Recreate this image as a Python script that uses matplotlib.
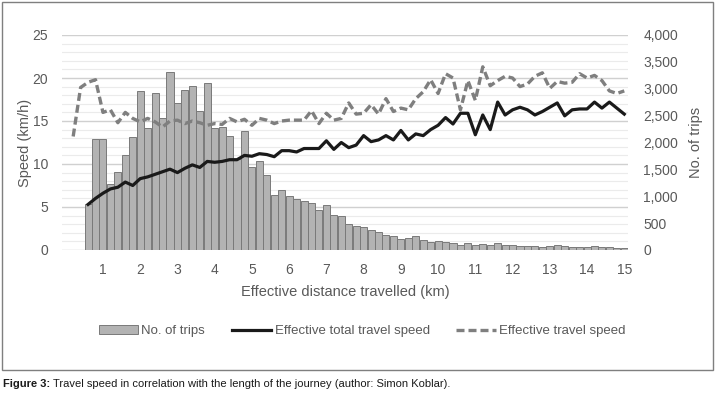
import numpy as np
import matplotlib
matplotlib.use("Agg")
import matplotlib.pyplot as plt
from matplotlib.patches import Rectangle, Patch
from matplotlib.lines import Line2D

plt.rcParams['font.family'] = ['Liberation Sans', 'DejaVu Sans']

# distance categories (km), 0.0 .. 15.0 step 0.2
distance = np.round(np.arange(0, 76) * 0.2, 1)

trips = [0, 0, 0, 850, 2065, 2071, 1225, 1445, 1760, 2108,
         2957, 2263, 2914, 2449, 3317, 2728, 2976, 3044, 2585, 3100,
         2270, 2288, 2130, 1690, 2210, 1545, 1662, 1390, 1020, 1113,
         1004, 952, 918, 868, 735, 834, 648, 632, 477, 450,
         422, 375, 329, 288, 267, 205, 232, 267, 186, 140,
         174, 155, 124, 90, 124, 100, 120, 95, 125, 95,
         95, 80, 78, 75, 65, 70, 90, 80, 62, 55,
         65, 75, 55, 50, 40, 32]

total_speed = [np.nan, np.nan, np.nan, 5.3, 6.0, 6.6, 7.1, 7.3, 7.9, 7.5,
               8.3, 8.5, 8.8, 9.1, 9.4, 9.0, 9.5, 9.9, 9.6, 10.3,
               10.2, 10.3, 10.5, 10.5, 11.0, 10.9, 11.2, 11.1, 10.85, 11.55,
               11.55, 11.4, 11.8, 11.8, 11.8, 12.7, 11.7, 12.5, 11.9, 12.2,
               13.3, 12.6, 12.8, 13.3, 12.8, 13.9, 12.8, 13.5, 13.3, 14.0,
               14.5, 15.4, 14.65, 15.9, 15.9, 13.4, 15.7, 14.0, 17.2, 15.7,
               16.3, 16.6, 16.3, 15.7, 16.1, 16.6, 17.1, 15.6, 16.3, 16.4,
               16.4, 17.2, 16.5, 17.2, 16.5, 15.8]

travel_speed = [np.nan, 13.2, 18.9, 19.5, 19.8, 16.0, 16.3, 14.8, 16.0, 15.3,
                14.9, 15.3, 14.9, 14.3, 15.0, 15.1, 14.7, 15.0, 14.8, 14.5,
                14.7, 14.6, 15.3, 14.9, 15.2, 14.5, 15.3, 15.1, 14.7, 15.0,
                15.1, 15.1, 15.1, 16.2, 14.7, 15.9, 15.1, 15.3, 17.1, 15.8,
                15.9, 16.9, 15.8, 17.6, 16.1, 16.5, 16.3, 17.6, 18.4, 19.8,
                18.2, 20.5, 20.0, 16.3, 19.7, 17.4, 21.3, 19.1, 19.7, 20.2,
                20.0, 19.0, 19.3, 20.2, 20.6, 18.8, 19.6, 19.4, 19.5, 20.5,
                20.0, 20.3, 19.7, 18.5, 18.2, 18.5]

xticks = list(range(1, 16))
left_ticks = [0, 5, 10, 15, 20, 25]
right_ticks = [0, 500, 1000, 1500, 2000, 2500, 3000, 3500, 4000]

W, H = 716, 396
fig = plt.figure(figsize=(W / 100, H / 100), dpi=100)

# outer frame
fig.patches.append(Rectangle((2 / W, 1 - 370 / H), 711 / W, 368 / H,
                             transform=fig.transFigure, fill=False,
                             edgecolor='#7f7f7f', linewidth=1.0))

ax = fig.add_axes([62 / W, 1 - 250 / H, 566 / W, 215 / H])
ax2 = ax.twinx()

txt = '#595959'
bar_face = '#b3b3b3'
bar_edge = '#7a7a7a'
dash_style = (0, (2.4, 1.2))

ax.set_ylim(0, 25)
ax2.set_ylim(0, 4000)
ax.set_xlim(-0.1, 15.1)

# gridlines
ax.set_yticks(left_ticks)
ax.set_yticks(np.arange(0, 26, 1), minor=True)
ax.grid(axis='y', which='major', color='#d0d0d0', linewidth=1.0)
ax.grid(axis='y', which='minor', color='#ebebeb', linewidth=0.8)
ax.set_axisbelow(True)
ax.tick_params(axis='y', which='minor', length=0)

ax2.bar(distance, trips, width=0.2 * 0.95, color=bar_face,
        edgecolor=bar_edge, linewidth=0.7, zorder=1)
ax2.set_yticks(right_ticks)
ax2.set_yticklabels([f'{v:,}' for v in right_ticks])

# lines on an overlay so they sit above the bars
ax3 = ax.twinx()
ax3.set_ylim(0, 25)
ax3.set_axis_off()
ax3.plot(distance, travel_speed, color='#7f7f7f', linewidth=2.4,
         linestyle=dash_style, zorder=3)
ax3.plot(distance, total_speed, color='#1a1a1a', linewidth=2.3, zorder=4)
ax3.set_xlim(-0.1, 15.1)

for a in (ax, ax2):
    for s in a.spines.values():
        s.set_visible(False)
    a.tick_params(length=0, colors=txt, labelsize=10)

ax.set_xticks(xticks)
ax.set_xticklabels([str(v) for v in xticks])
ax.tick_params(axis='x', pad=9, labelsize=10)
ax.tick_params(axis='y', pad=10)
ax2.tick_params(axis='y', pad=11)

ax.set_ylabel('Speed (km/h)', color=txt, fontsize=10.5)
ax.yaxis.set_label_coords((32 - 62) / 566, 0.5)
ax2.set_ylabel('No. of trips', color=txt, fontsize=10.5, rotation=90)
ax2.yaxis.set_label_coords((689 - 62) / 566, 0.5)
ax.set_xlabel('Effective distance travelled (km)', color=txt, fontsize=10.5,
              labelpad=6)

handles = [Patch(facecolor=bar_face, edgecolor=bar_edge, linewidth=0.7),
           Line2D([], [], color='#1a1a1a', linewidth=2.3),
           Line2D([], [], color='#7f7f7f', linewidth=2.4,
                  linestyle=dash_style)]
labels = ['No. of trips', 'Effective total travel speed',
          'Effective travel speed']
leg = fig.legend(handles, labels, loc='center', ncol=3,
                 bbox_to_anchor=(362 / W, 1 - 331 / H), frameon=False,
                 handlelength=3.0, handletextpad=0.25, columnspacing=2.0,
                 prop={'size': 9.5})
for t in leg.get_texts():
    t.set_color(txt)

cap_y = 1 - 384 / H
t1 = fig.text(3 / W, cap_y, 'Figure 3:', fontsize=8, fontweight='bold',
              va='center', ha='left', color='#1a1a1a')
fig.canvas.draw()
bb = t1.get_window_extent()
fig.text((bb.x1 + 3) / W, cap_y,
         'Travel speed in correlation with the length of the journey (author: Simon Koblar).',
         fontsize=8, va='center', ha='left', color='#1a1a1a')

fig.savefig('out.png', dpi=100)
